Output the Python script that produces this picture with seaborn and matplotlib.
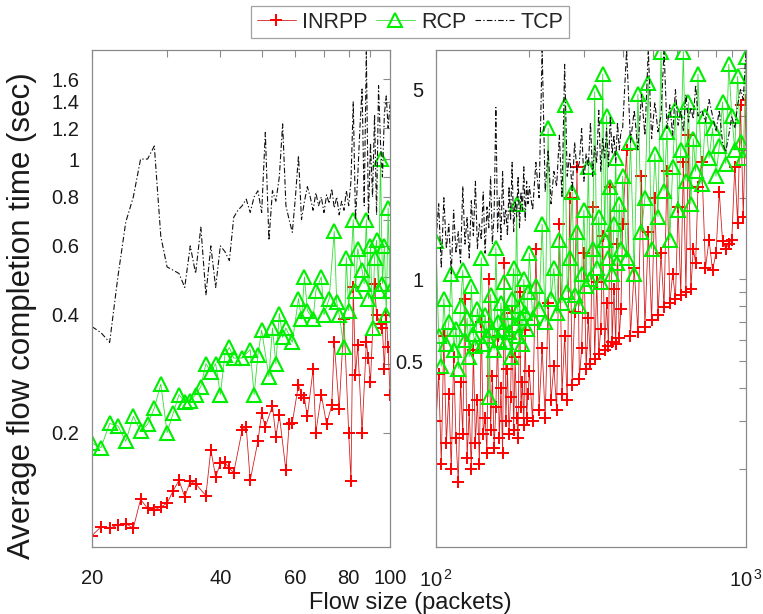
import matplotlib
matplotlib.use("Agg")
import matplotlib.pyplot as plt
from matplotlib.ticker import FixedLocator, FixedFormatter, NullFormatter
import pandas as pd
import seaborn as sns

# ---------------- data ----------------
# Left panel: flow sizes 20..100
inrpp_left_x = [20, 21, 22, 23, 24, 25, 26, 27, 28, 29, 30, 31, 32, 33, 34, 35, 37, 38, 39, 40,
                41, 42, 43, 45, 46, 47, 49, 50, 51, 53, 54, 55, 57, 58, 59, 61, 62, 63, 64, 66,
                67, 69, 71, 73, 74, 76, 78, 80, 81, 82, 83, 84, 86, 88, 89, 90, 92, 93, 95, 96,
                97, 98, 99, 100]
inrpp_left_y = [0.109, 0.115, 0.114, 0.116, 0.117, 0.114, 0.135, 0.128, 0.127, 0.129, 0.132, 0.142,
                0.151, 0.137, 0.150, 0.148, 0.138, 0.181, 0.154, 0.167, 0.168, 0.162, 0.158, 0.203,
                0.207, 0.151, 0.190, 0.224, 0.207, 0.234, 0.195, 0.222, 0.160, 0.210, 0.212, 0.265,
                0.250, 0.245, 0.220, 0.290, 0.200, 0.250, 0.210, 0.235, 0.340, 0.230, 0.390, 0.200,
                0.150, 0.470, 0.280, 0.335, 0.200, 0.340, 0.310, 0.270, 0.480, 0.400, 0.380, 0.370,
                0.290, 0.400, 0.330, 0.250]

rcp_left_x = [20, 21, 22, 23, 24, 25, 26, 27, 28, 29, 30, 31, 32, 33, 34, 35, 36, 37, 38, 39,
              40, 41, 42, 43, 45, 47, 48, 49, 50, 52, 53, 54, 55, 56, 57, 59, 61, 62, 63, 64,
              66, 67, 69, 70, 72, 74, 75, 76, 78, 79, 80, 82, 83, 84, 86, 87, 88, 89, 90, 91,
              92, 93, 94, 95, 96, 97, 98, 99, 100]
rcp_left_y = [0.188, 0.183, 0.211, 0.208, 0.190, 0.220, 0.202, 0.210, 0.231, 0.266, 0.200, 0.224,
              0.250, 0.240, 0.241, 0.250, 0.262, 0.300, 0.286, 0.300, 0.250, 0.316, 0.330, 0.310,
              0.310, 0.326, 0.250, 0.316, 0.365, 0.278, 0.370, 0.300, 0.403, 0.350, 0.370, 0.340,
              0.440, 0.390, 0.500, 0.410, 0.390, 0.460, 0.500, 0.400, 0.440, 0.654, 0.430, 0.400,
              0.330, 0.560, 0.410, 0.700, 0.460, 0.590, 0.520, 0.480, 0.700, 0.440, 0.600, 0.370,
              0.560, 0.620, 0.460, 1.000, 0.480, 0.600, 0.400, 0.750, 0.460]

tcp_left_x = list(range(20, 101))
tcp_left_y = [0.373, 0.36, 0.34, 0.50, 0.69, 0.80, 1.00, 1.00, 1.08, 0.635, 0.53, 0.52, 0.51, 0.47,
              0.60, 0.51, 0.67, 0.45, 0.60, 0.47, 0.60, 0.58, 0.55, 0.71, 0.74, 0.76, 0.79, 0.73,
              0.80, 0.83, 0.73, 1.17, 0.62, 0.83, 0.78, 0.90, 1.23, 0.76, 0.70, 0.65, 0.80, 1.02,
              0.70, 0.78, 0.85, 0.80, 0.74, 0.82, 0.76, 0.80, 0.73, 0.81, 0.77, 0.84, 0.75, 0.80,
              0.72, 0.78, 0.74, 0.83, 0.76, 0.88, 1.40, 0.70, 0.90, 1.20, 1.51, 0.76, 1.88, 0.70,
              1.10, 0.80, 1.30, 0.72, 1.54, 1.10, 0.90, 1.30, 1.45, 1.20, 1.38]

# Right panel: flow sizes 100..1000
right_x = [100, 102, 104, 106, 108, 110, 112, 114, 116, 118, 120, 122, 124, 126, 128, 130, 132,
           134, 136, 138, 140, 142, 144, 146, 148, 150, 152, 154, 156, 158, 160, 162, 164, 166,
           168, 170, 172, 174, 176, 178, 180, 182, 184, 186, 188, 190, 192, 194, 196, 198,
           200, 205, 210, 215, 220, 225, 230, 235, 240, 245, 250, 255, 260, 265, 270, 275, 280,
           285, 290, 295, 300, 305, 310, 315, 320, 325, 330, 335, 340, 345, 350, 355, 360, 365,
           370, 375, 380, 385, 390, 395,
           400, 412, 424, 436, 448, 460, 472, 484, 496, 508, 520, 532, 544, 556, 568, 580, 592,
           604, 616, 628, 640, 652, 664, 676, 688, 700,
           720, 740, 760, 780, 800, 820, 840, 860, 880, 900, 920, 940, 960, 980, 1000]

inrpp_right_y = [0.30, 0.45, 0.21, 0.62, 0.25, 0.38, 0.20, 0.52, 0.26, 0.18,
                 0.42, 0.27, 0.85, 0.22, 0.33, 0.20, 0.55, 0.25, 0.36, 0.21,
                 0.70, 0.27, 0.31, 0.23, 1.00, 0.28, 0.44, 0.24, 0.34, 0.62,
                 0.26, 0.40, 0.23, 1.15, 0.30, 0.47, 0.27, 0.37, 0.75, 0.28,
                 0.52, 0.31, 0.26, 0.90, 0.34, 0.42, 0.29, 0.65, 0.31, 0.38,
                 0.46, 0.30, 1.30, 0.33, 0.56, 0.31, 0.82, 0.36, 0.48, 0.33,
                 1.60, 0.38, 0.62, 0.36, 2.00, 0.41, 0.76, 2.60, 0.43, 0.56,
                 1.25, 0.47, 0.72, 0.49, 1.85, 0.51, 0.98, 0.53, 0.66, 1.45,
                 0.55, 0.82, 0.57, 2.20, 0.59, 0.92, 0.58, 1.35, 0.61, 0.78,
                 1.60, 3.00, 0.62, 1.10, 0.64, 2.40, 0.67, 1.50, 0.71, 2.00,
                 0.74, 1.25, 0.79, 2.50, 0.82, 1.05, 0.85, 1.85, 0.88, 2.70,
                 0.90, 3.40, 0.92, 1.30, 1.15, 2.20,
                 2.70, 1.10, 1.40, 1.08, 1.25, 2.10, 1.39, 1.30, 1.35, 1.40,
                 2.60, 1.62, 4.40, 1.70, 4.60]

rcp_right_y = [1.39, 0.62, 0.48, 0.85, 0.58, 0.70, 1.05, 0.55, 0.66, 0.47,
               0.80, 1.08, 0.60, 0.72, 0.52, 0.95, 0.63, 0.57, 0.78, 0.68,
               1.20, 0.58, 0.74, 0.62, 0.37, 0.88, 0.65, 0.55, 1.31, 0.70,
               0.60, 0.82, 0.66, 0.98, 0.59, 0.76, 0.64, 0.52, 0.85, 1.10,
               0.68, 1.90, 0.62, 0.80, 0.72, 0.58, 1.00, 0.75, 0.66, 0.90,
               1.25, 0.72, 0.95, 0.78, 1.60, 0.70, 3.60, 0.85, 1.10, 0.75,
               1.40, 0.82, 4.40, 0.90, 1.20, 2.10, 0.88, 1.50, 0.80, 1.05,
               1.80, 0.95, 2.60, 1.00, 1.30, 4.90, 1.10, 1.70, 0.98, 5.70,
               1.40, 4.00, 1.20, 2.20, 1.05, 1.60, 2.80, 1.15, 1.90, 1.30,
               2.40, 1.20, 3.20, 1.05, 4.80, 1.50, 2.00, 5.30, 1.30, 2.90,
               1.70, 6.90, 2.12, 3.50, 1.40, 2.60, 4.20, 1.80, 3.00, 6.90,
               2.30, 4.50, 1.90, 3.30, 2.50, 5.70,
               2.25, 4.00, 2.80, 3.60, 2.40, 3.10, 4.50, 2.67, 6.20, 4.00,
               3.00, 5.60, 3.20, 2.80, 6.60]

tcp_right_y = [1.40, 1.90, 1.10, 2.00, 1.30, 1.60, 1.05, 1.80, 1.25, 1.50,
               1.15, 2.20, 1.35, 1.70, 1.20, 1.95, 1.45, 2.30, 1.30, 1.60,
               1.40, 2.10, 1.25, 1.85, 1.55, 2.40, 1.35, 1.75, 4.30, 1.50,
               2.00, 1.40, 2.50, 1.60, 1.80, 1.45, 2.20, 1.65, 2.70, 1.50,
               1.95, 1.70, 2.40, 1.55, 2.10, 1.80, 2.60, 1.65, 2.30, 1.90,
               2.20, 1.80, 2.70, 2.00, 7.00, 2.10, 3.00, 1.90, 2.50, 2.20,
               3.40, 2.00, 6.20, 2.40, 2.90, 2.10, 3.20, 2.50, 2.70, 3.60,
               2.30, 2.90, 2.60, 3.80, 2.40, 3.10, 2.70, 4.20, 2.50, 3.30,
               2.80, 3.60, 2.60, 4.00, 2.90, 3.40, 2.70, 3.80, 3.00, 3.50,
               3.60, 7.00, 3.20, 4.20, 3.00, 4.80, 3.40, 7.00, 3.30, 4.50,
               3.50, 4.00, 7.00, 3.60, 4.40, 3.40, 5.00, 3.70, 4.20, 3.50,
               4.80, 3.80, 4.30, 3.90, 5.20, 4.00,
               4.20, 3.80, 4.60, 4.00, 3.50, 4.20, 3.20, 2.95, 3.40, 4.00,
               3.60, 4.40, 5.00, 4.60, 7.00]

series_names = ["INRPP", "RCP", "TCP"]
left_xticks = [20, 40, 60, 80, 100]
left_xticklabels = ["20", "40", "60", "80", "100"]
right_xticks = [100, 1000]
right_xticklabels = [r"$\mathregular{10^{\,2}}$", r"$\mathregular{10^{\,3}}$"]
left_yticks = [0.2, 0.4, 0.6, 0.8, 1, 1.2, 1.4, 1.6]
left_yticklabels = ["0.2", "0.4", "0.6", "0.8", "1", "1.2", "1.4", "1.6"]
right_yticks = [0.5, 1, 5]
right_yticklabels = ["0.5", "1", "5"]

# ---------------- style ----------------
sns.set_theme(style="white")
plt.rcParams["font.family"] = ["Liberation Sans", "DejaVu Sans"]
plt.rcParams["mathtext.fontset"] = "custom"
plt.rcParams["mathtext.rm"] = "Liberation Sans"

W, H = 763, 614
fig = plt.figure(figsize=(W / 100, H / 100), dpi=100, facecolor="white")
axL = fig.add_axes([92 / W, 67 / H, 298 / W, 497 / H])
axR = fig.add_axes([436 / W, 67 / H, 310 / W, 497 / H])

red_kw = dict(color="#d42020", linewidth=0.6, marker="+", markersize=9,
              markeredgewidth=1.4, markeredgecolor="#ff0000", markerfacecolor="#ff0000")
green_kw = dict(color="#33dd33", linewidth=0.6, marker="^", markersize=9.5,
                markeredgewidth=1.5, markeredgecolor="#00ee00", markerfacecolor="none")
black_kw = dict(color="#111111", linewidth=0.8)


def draw(ax, xs, ys, name, kw):
    df = pd.DataFrame({"x": xs, "y": ys})
    sns.lineplot(data=df, x="x", y="y", ax=ax, sort=False, estimator=None,
                 legend=False, label=name, **kw)
    return ax.lines[-1]


for ax, data in [
    (axL, [(inrpp_left_x, inrpp_left_y), (rcp_left_x, rcp_left_y), (tcp_left_x, tcp_left_y)]),
    (axR, [(right_x, inrpp_right_y), (right_x, rcp_right_y), (right_x, tcp_right_y)]),
]:
    l1 = draw(ax, data[0][0], data[0][1], series_names[0], red_kw)
    l2 = draw(ax, data[1][0], data[1][1], series_names[1], green_kw)
    l3 = draw(ax, data[2][0], data[2][1], series_names[2], black_kw)
    l3.set_dashes([5, 2, 1.2, 2])
    ax.set_xscale("log")
    ax.set_yscale("log")
    ax.set_xlabel("")
    ax.set_ylabel("")
    for s in ax.spines.values():
        s.set_color("#8a8a8a")
        s.set_linewidth(0.9)
    ax.tick_params(which="both", direction="in", top=True, right=True,
                   color="#8a8a8a", length=5, width=0.8, labelsize=14.5,
                   labelcolor="#1a1a1a")
    ax.tick_params(axis="x", which="both", pad=16)
    ax.tick_params(axis="y", which="both", pad=9)
    if ax is axL:
        legend_handles = [l1, l2, l3]

axL.set_xlim(20, 100)
axL.set_ylim(0.102, 1.9)
axL.xaxis.set_major_locator(FixedLocator(left_xticks))
axL.xaxis.set_major_formatter(FixedFormatter(left_xticklabels))
axL.xaxis.set_minor_locator(FixedLocator([30, 50, 70, 90]))
axL.xaxis.set_minor_formatter(NullFormatter())
axL.yaxis.set_major_locator(FixedLocator(left_yticks))
axL.yaxis.set_major_formatter(FixedFormatter(left_yticklabels))
axL.yaxis.set_minor_locator(FixedLocator([0.3, 0.5, 0.7, 0.9]))
axL.yaxis.set_minor_formatter(NullFormatter())

axR.set_xlim(100, 1000)
axR.set_ylim(0.1035, 7.0)
axR.xaxis.set_major_locator(FixedLocator(right_xticks))
axR.xaxis.set_major_formatter(FixedFormatter(right_xticklabels))
axR.xaxis.set_minor_locator(FixedLocator([200, 300, 400, 500, 600, 700, 800, 900]))
axR.xaxis.set_minor_formatter(NullFormatter())
axR.yaxis.set_major_locator(FixedLocator(right_yticks))
axR.yaxis.set_major_formatter(FixedFormatter(right_yticklabels))
axR.yaxis.set_minor_locator(FixedLocator([0.2, 0.3, 0.4, 0.6, 0.7, 0.8, 0.9, 2, 3, 4, 6]))
axR.yaxis.set_minor_formatter(NullFormatter())

fig.text(410 / W, 1 - 603 / H, "Flow size (packets)", ha="center", va="center",
         fontsize=17, color="#1a1a1a")
fig.text(22 / W, 1 - 316 / H, "Average flow completion time (sec)", ha="center",
         va="center", rotation=90, fontsize=22.5, color="#1a1a1a")

leg = fig.legend(legend_handles, series_names, loc="center",
                 bbox_to_anchor=(410 / W, 1 - 22 / H), ncol=3, frameon=True,
                 fancybox=False, edgecolor="#8a8a8a", fontsize=15.5, handlelength=1.8,
                 handletextpad=0.3, columnspacing=0.4, borderpad=0.25, borderaxespad=0)
leg.get_frame().set_linewidth(0.9)

fig.savefig("out.png", dpi=100, facecolor="white")
